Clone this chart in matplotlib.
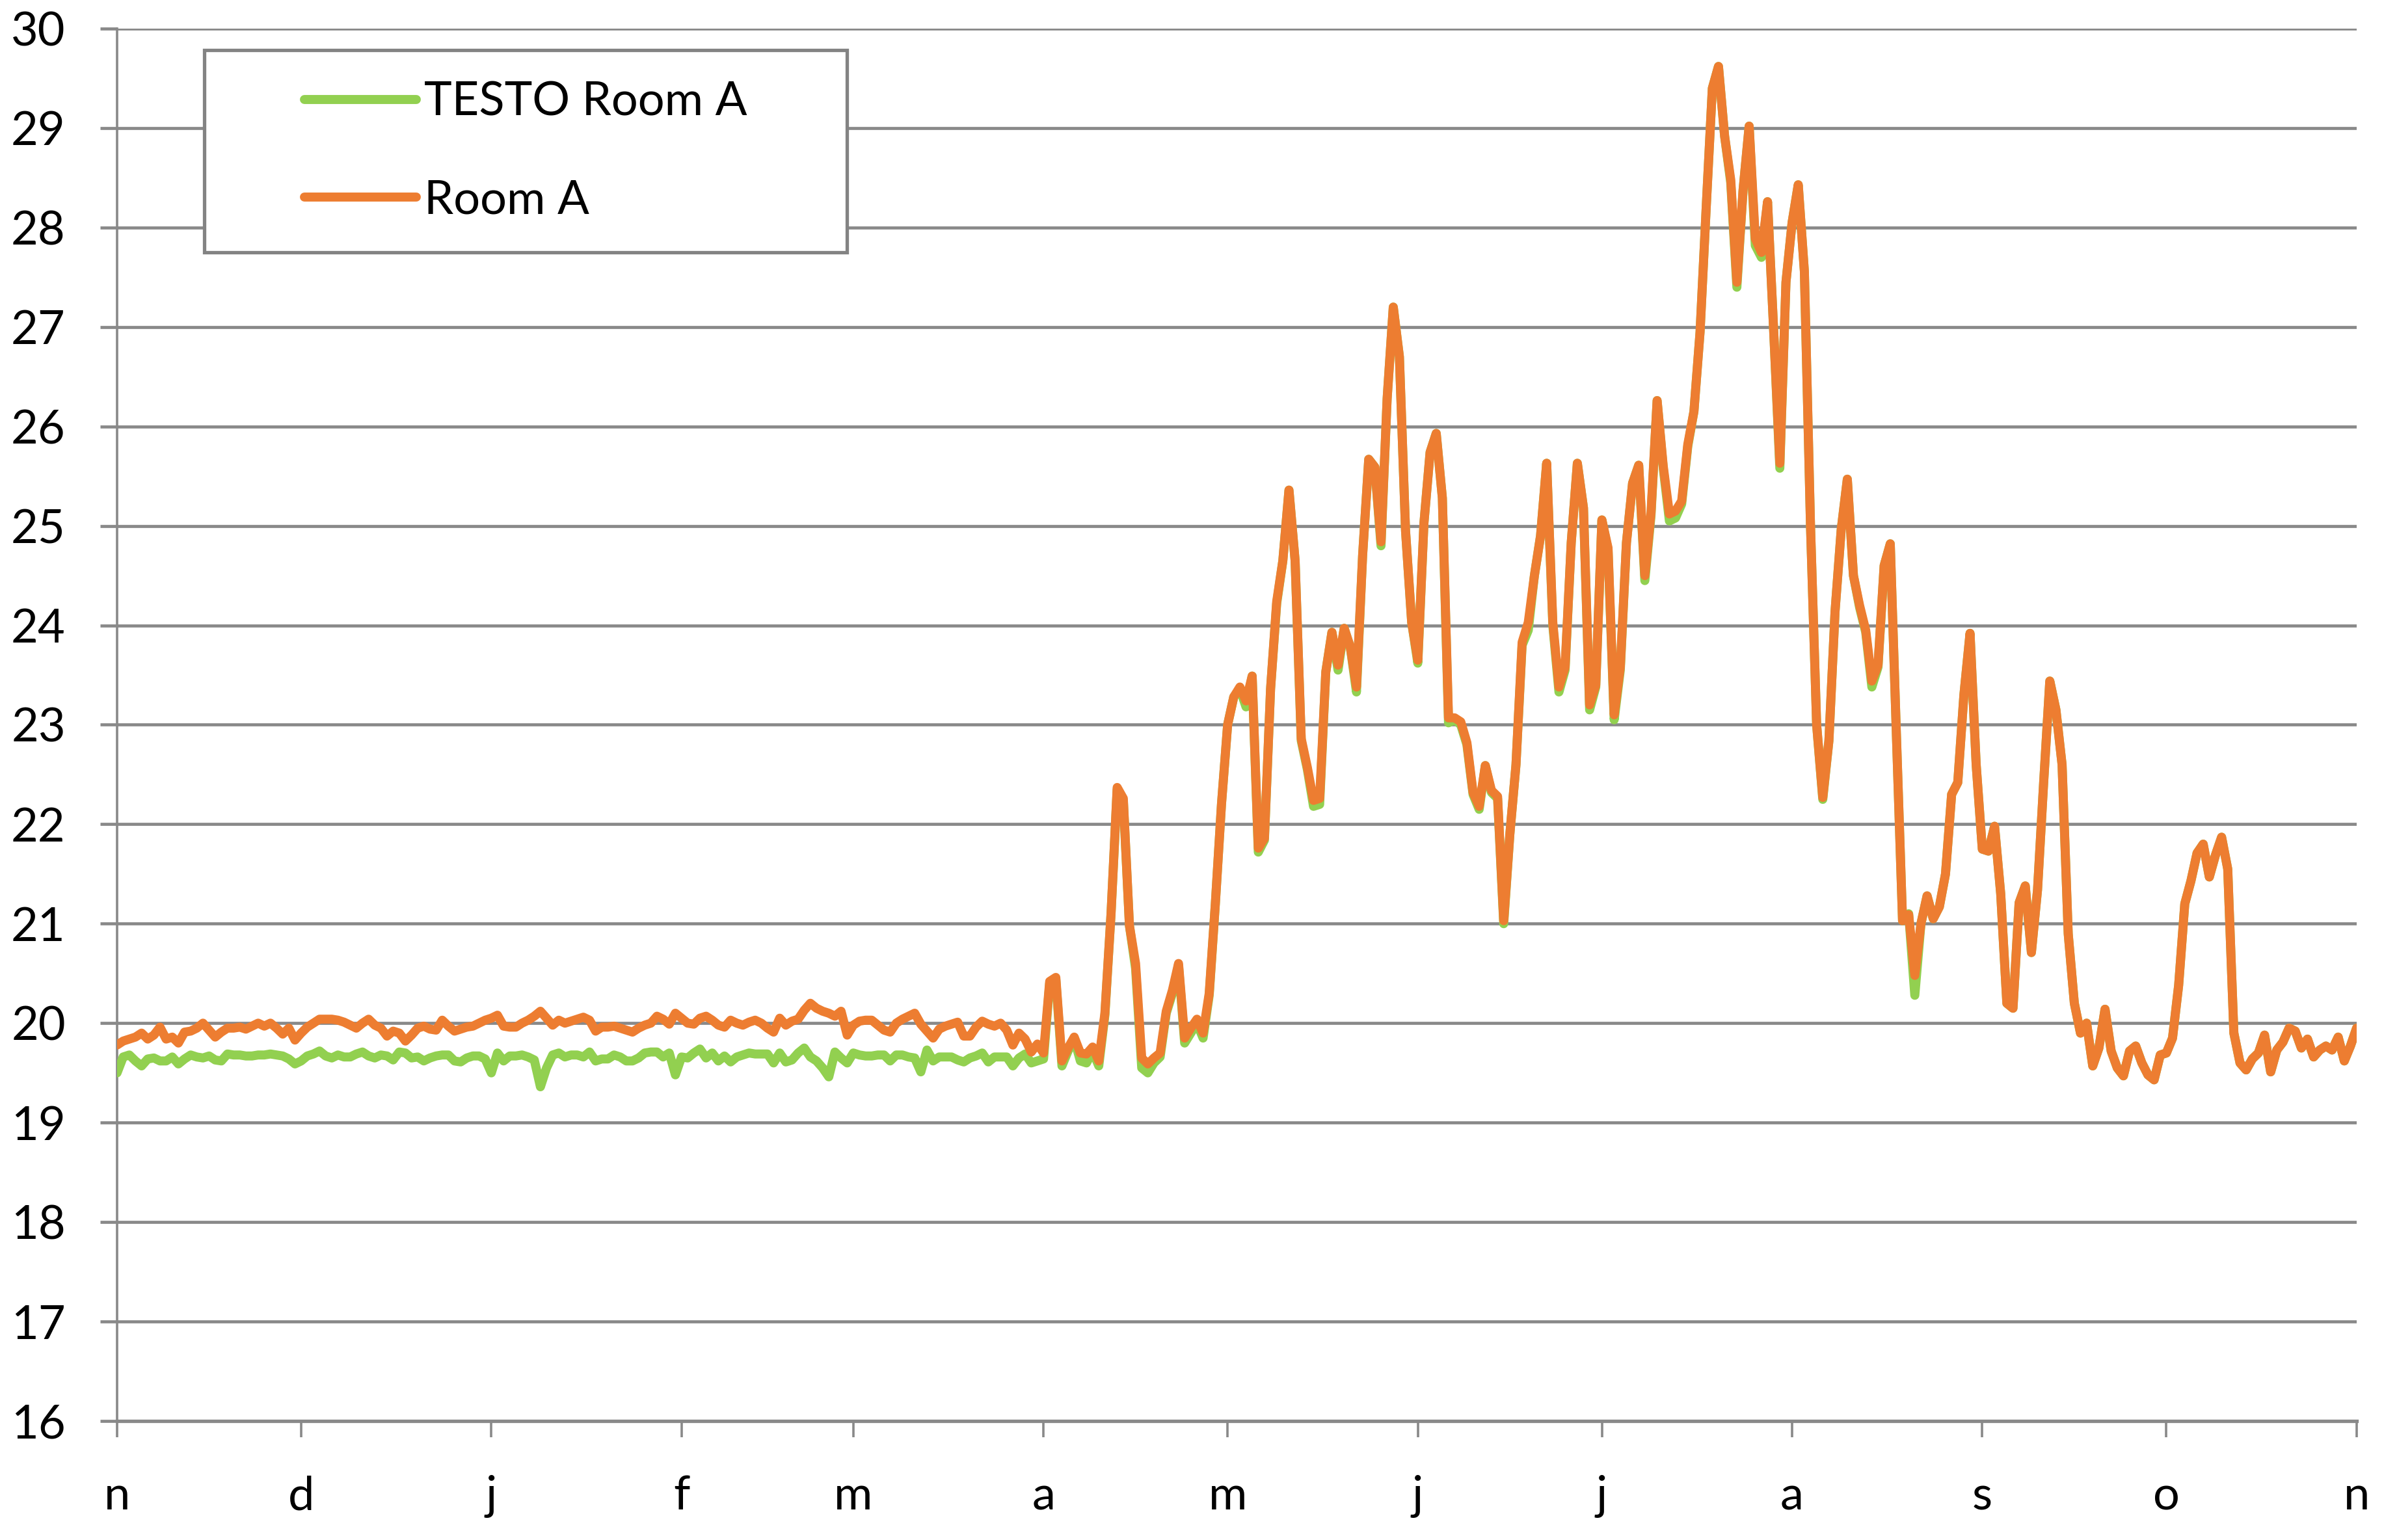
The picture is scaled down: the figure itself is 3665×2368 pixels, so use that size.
import numpy as np
import matplotlib
matplotlib.use('Agg')
import matplotlib.pyplot as plt
from matplotlib.patches import Rectangle

plt.rcParams['font.family'] = ['Lato', 'DejaVu Sans']

# daily means, day 0 = 1 November
month_starts = [0, 30, 61, 92, 120, 151, 181, 212, 242, 273, 304, 334, 365]
month_labels = ['n', 'd', 'j', 'f', 'm', 'a', 'm', 'j', 'j', 'a', 's', 'o', 'n']
y_ticks = list(range(16, 31))

# Room A, 1 Nov - 31 Mar (days 0-151)
room_a_winter = [
    19.78, 19.82, 19.84, 19.86, 19.90, 19.84, 19.88, 19.96, 19.84, 19.86,
    19.80, 19.91, 19.92, 19.95, 20.00, 19.93, 19.86, 19.91, 19.95, 19.95,
    19.96, 19.94, 19.97, 20.00, 19.97, 20.00, 19.95, 19.89, 19.95, 19.83,
    19.90, 19.96, 20.00, 20.04, 20.04, 20.04, 20.03, 20.01, 19.98, 19.95,
    20.00, 20.04, 19.98, 19.95, 19.87, 19.92, 19.90, 19.82, 19.88, 19.95,
    19.97, 19.94, 19.93, 20.03, 19.97, 19.92, 19.94, 19.96, 19.97, 20.00,
    20.03, 20.05, 20.08, 19.97, 19.96, 19.96, 20.00, 20.03, 20.07, 20.12,
    20.05, 19.98, 20.03, 20.00, 20.02, 20.04, 20.06, 20.03, 19.92, 19.96,
    19.96, 19.97, 19.95, 19.93, 19.91, 19.95, 19.98, 20.00, 20.07, 20.04,
    19.99, 20.10, 20.05, 20.00, 19.99, 20.05, 20.07, 20.03, 19.98, 19.96,
    20.03, 20.00, 19.98, 20.01, 20.03, 20.00, 19.95, 19.91, 20.05, 19.98,
    20.02, 20.04, 20.13, 20.20, 20.15, 20.12, 20.10, 20.07, 20.12, 19.88,
    19.98, 20.02, 20.03, 20.03, 19.98, 19.93, 19.91, 20.00, 20.04, 20.07,
    20.10, 19.99, 19.92, 19.85, 19.94, 19.97, 19.99, 20.01, 19.87, 19.87,
    19.96, 20.02, 19.99, 19.97, 20.00, 19.93, 19.78, 19.90, 19.84, 19.71,
    19.79, 19.70,
]

# Room A, 1 Apr - 1 Nov (days 152-365)
room_a_summer = [
    20.42, 20.46, 19.62, 19.75, 19.86, 19.70, 19.69, 19.76, 19.62, 20.10,
    21.10, 22.37, 22.26, 20.98, 20.60, 19.65, 19.59, 19.65, 19.70, 20.12,
    20.33, 20.60, 19.85, 19.95, 20.04, 19.90, 20.30, 21.20, 22.20, 23.00,
    23.28, 23.38, 23.24, 23.49, 21.76, 21.86, 23.36, 24.24, 24.65, 25.36,
    24.65, 22.86, 22.57, 22.24, 22.26, 23.53, 23.93, 23.60, 23.97, 23.78,
    23.38, 24.70, 25.67, 25.59, 24.84, 26.28, 27.20, 26.70, 24.95, 24.03,
    23.65, 25.03, 25.74, 25.93, 25.28, 23.07, 23.07, 23.03, 22.82, 22.32,
    22.18, 22.59, 22.34, 22.28, 21.03, 21.90, 22.60, 23.83, 24.03, 24.50,
    24.90, 25.63, 24.03, 23.38, 23.58, 24.83, 25.63, 25.18, 23.20, 23.40,
    25.06, 24.78, 23.10, 23.58, 24.83, 25.43, 25.61, 24.50, 25.13, 26.26,
    25.60, 25.12, 25.15, 25.25, 25.82, 26.15, 26.95, 28.20, 29.40, 29.62,
    28.92, 28.48, 27.45, 28.37, 29.02, 27.89, 27.75, 28.26, 26.96, 25.63,
    27.45, 28.05, 28.43, 27.56, 25.00, 23.00, 22.27, 22.84, 24.14, 24.96,
    25.47, 24.50, 24.20, 23.95, 23.44, 23.60, 24.60, 24.82, 22.90, 21.03,
    21.09, 20.48, 21.00, 21.28, 21.05, 21.17, 21.50, 22.30, 22.42, 23.30,
    23.92, 22.60, 21.75, 21.73, 21.98, 21.30, 20.20, 20.15, 21.21, 21.38,
    20.71, 21.34, 22.42, 23.44, 23.15, 22.60, 20.90, 20.20, 19.90, 20.00,
    19.57, 19.75, 20.14, 19.72, 19.55, 19.47, 19.72, 19.77, 19.60, 19.48,
    19.43, 19.68, 19.70, 19.85, 20.38, 21.20, 21.43, 21.71, 21.80, 21.47,
    21.69, 21.87, 21.55, 19.90, 19.60, 19.53, 19.64, 19.70, 19.88, 19.51,
    19.73, 19.81, 19.95, 19.92, 19.75, 19.84, 19.66, 19.73, 19.77, 19.73,
    19.86, 19.62, 19.77, 19.95,
]

# TESTO logger in Room A
testo_winter = [
    19.50, 19.66, 19.68, 19.62, 19.57, 19.64, 19.65, 19.62, 19.62, 19.66,
    19.59, 19.64, 19.68, 19.66, 19.65, 19.67, 19.63, 19.62, 19.69, 19.68,
    19.68, 19.67, 19.67, 19.68, 19.68, 19.69, 19.68, 19.67, 19.64, 19.59,
    19.62, 19.67, 19.69, 19.72, 19.67, 19.65, 19.68, 19.66, 19.66, 19.69,
    19.71, 19.67, 19.65, 19.68, 19.67, 19.63, 19.71, 19.70, 19.65, 19.66,
    19.62, 19.65, 19.67, 19.68, 19.68, 19.62, 19.61, 19.65, 19.67, 19.67,
    19.64, 19.50, 19.70, 19.62, 19.67, 19.67, 19.68, 19.66, 19.63, 19.36,
    19.55, 19.68, 19.70, 19.66, 19.68, 19.68, 19.66, 19.71, 19.62, 19.64,
    19.64, 19.68, 19.66, 19.62, 19.62, 19.65, 19.70, 19.71, 19.71, 19.66,
    19.70, 19.48, 19.66, 19.65, 19.70, 19.74, 19.65, 19.70, 19.62, 19.67,
    19.61, 19.66, 19.68, 19.70, 19.69, 19.69, 19.69, 19.60, 19.70, 19.61,
    19.63, 19.70, 19.75, 19.66, 19.62, 19.55, 19.46, 19.71, 19.65, 19.60,
    19.70, 19.68, 19.67, 19.67, 19.68, 19.68, 19.62, 19.68, 19.68, 19.66,
    19.65, 19.51, 19.73, 19.62, 19.66, 19.66, 19.66, 19.63, 19.61, 19.65,
    19.67, 19.70, 19.61, 19.66, 19.66, 19.66, 19.57, 19.65, 19.69, 19.60,
    19.62, 19.64,
]

testo_summer = [
    20.40, 20.44, 19.57, 19.72, 19.84, 19.62, 19.60, 19.72, 19.57, 20.08,
    21.10, 22.35, 22.24, 20.98, 20.55, 19.55, 19.50, 19.60, 19.66, 20.10,
    20.30, 20.58, 19.80, 19.90, 20.00, 19.85, 20.28, 21.20, 22.20, 23.00,
    23.28, 23.36, 23.18, 23.49, 21.72, 21.84, 23.36, 24.22, 24.65, 25.36,
    24.65, 22.84, 22.55, 22.18, 22.20, 23.53, 23.93, 23.55, 23.97, 23.78,
    23.33, 24.70, 25.67, 25.59, 24.80, 26.28, 27.20, 26.70, 24.95, 24.03,
    23.62, 25.03, 25.74, 25.93, 25.28, 23.02, 23.05, 23.00, 22.80, 22.30,
    22.15, 22.59, 22.32, 22.26, 21.00, 21.90, 22.60, 23.80, 23.95, 24.50,
    24.90, 25.63, 24.00, 23.33, 23.55, 24.83, 25.63, 25.18, 23.15, 23.38,
    25.06, 24.76, 23.05, 23.55, 24.83, 25.43, 25.61, 24.45, 25.10, 26.26,
    25.58, 25.05, 25.08, 25.22, 25.80, 26.15, 26.95, 28.20, 29.40, 29.62,
    28.92, 28.45, 27.40, 28.37, 29.02, 27.82, 27.70, 28.26, 26.96, 25.58,
    27.45, 28.05, 28.43, 27.56, 25.00, 23.00, 22.25, 22.84, 24.14, 24.96,
    25.47, 24.50, 24.18, 23.93, 23.38, 23.58, 24.60, 24.82, 22.90, 21.03,
    21.10, 20.28, 21.00, 21.28, 21.05, 21.17, 21.50, 22.30, 22.42, 23.30,
    23.92, 22.60, 21.75, 21.73, 21.98, 21.30, 20.20, 20.15, 21.21, 21.38,
    20.71, 21.34, 22.42, 23.44, 23.15, 22.60, 20.90, 20.20, 19.90, 20.00,
    19.57, 19.75, 20.14, 19.72, 19.55, 19.47, 19.72, 19.77, 19.60, 19.48,
    19.43, 19.68, 19.70, 19.85, 20.38, 21.20, 21.43, 21.71, 21.80, 21.47,
    21.69, 21.87, 21.55, 19.90, 19.60, 19.53, 19.64, 19.70, 19.88, 19.51,
    19.73, 19.81, 19.95, 19.92, 19.75, 19.84, 19.66, 19.73, 19.77, 19.73,
    19.86, 19.62, 19.77, 19.95,
]

room_a = np.array(room_a_winter + room_a_summer)
testo = np.array(testo_winter + testo_summer)
days = np.arange(len(room_a))

GREEN = '#92D050'
ORANGE = '#ED7D31'
GRID = '#898989'

fig = plt.figure(figsize=(36.65, 23.68), dpi=100)
ax = fig.add_axes([0.0491, 0.0773, 0.9394, 0.9041])

line_kw = dict(lw=10, solid_joinstyle='round', solid_capstyle='round', zorder=3)
ax.plot(days, testo, color=GREEN, label='TESTO Room A', **line_kw)
ax.plot(days, room_a, color=ORANGE, label='Room A', **line_kw)

ax.set_xlim(0, 365)
ax.set_ylim(16, 30)
ax.set_yticks(y_ticks)
ax.set_xticks(month_starts)
ax.set_xticklabels(month_labels)

ax.yaxis.grid(True, color=GRID, lw=3.4)
ax.set_axisbelow(True)
for s in ('top', 'right'):
    ax.spines[s].set_visible(False)
ax.spines['left'].set_color(GRID)
ax.spines['left'].set_linewidth(2.6)
ax.spines['bottom'].set_color(GRID)
ax.spines['bottom'].set_linewidth(3.8)

ax.tick_params(axis='y', length=19, width=3.4, color=GRID, pad=38, labelsize=52)
ax.tick_params(axis='x', length=18, width=2.6, color=GRID, pad=42, labelsize=52)

# legend: framed box in the upper left corner
box = Rectangle((0.0389, 0.8394), 0.2871, 0.1452, transform=ax.transAxes,
                facecolor='white', edgecolor='#838383', lw=3.8, zorder=4)
ax.add_patch(box)
leg = ax.legend(loc='center', bbox_to_anchor=(0.1825, 0.912), frameon=False,
                fontsize=52, handlelength=2.39, handletextpad=0.17,
                labelspacing=1.18, borderpad=0)
leg.set_zorder(5)

fig.savefig('out.png', dpi=100, facecolor='white')
